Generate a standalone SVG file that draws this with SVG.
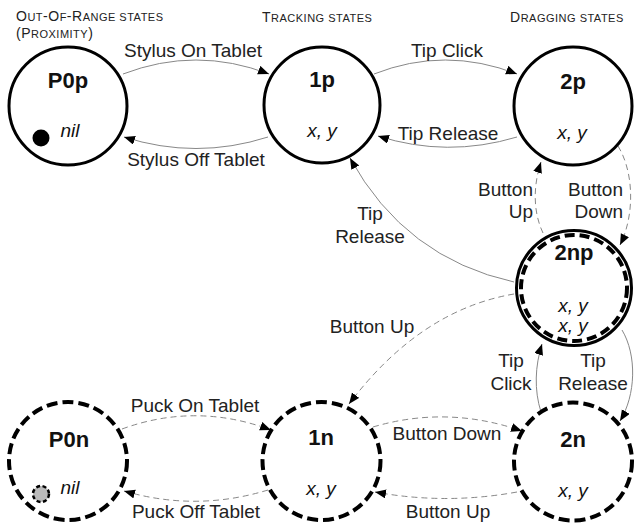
<svg xmlns="http://www.w3.org/2000/svg" width="635" height="526" viewBox="0 0 635 526">
  <style>
    text { font-family: "Liberation Sans", Arial, sans-serif; fill: #111; }
    .hdr { font-size: 14px; letter-spacing: 0.5px; fill: #222; }
    .hdr .sc { font-size: 11px; }
    .elabel { font-size: 19px; fill: #222; }
    .mid { text-anchor: middle; }
    .end { text-anchor: end; }
    .name { font-size: 22px; font-weight: bold; text-anchor: middle; }
    .val { font-size: 19px; font-style: italic; text-anchor: middle; }
    .state { fill: #fff; stroke: #000; stroke-width: 3; }
    .state.dashed { stroke-width: 4; stroke-dasharray: 11 5; }
    .edge { fill: none; stroke: #888; stroke-width: 1; marker-end: url(#arrow); }
    .edge.dashed { stroke-dasharray: 6 4; }
  </style>
  <defs>
    <marker id="arrow" markerUnits="userSpaceOnUse" markerWidth="12" markerHeight="10" refX="11" refY="4.5" orient="auto">
      <path d="M0,0 L11,4.5 L0,9 Z" fill="#000"/>
    </marker>
  </defs>

  <rect width="635" height="526" fill="#fff"/>

  <!-- column headings (small caps) -->
  <text class="hdr" x="16" y="21">O<tspan class="sc">UT</tspan>-O<tspan class="sc">F</tspan>-R<tspan class="sc">ANGE STATES</tspan></text>
  <text class="hdr" x="16" y="38">(P<tspan class="sc">ROXIMITY</tspan>)</text>
  <text class="hdr" x="262" y="22">T<tspan class="sc">RACKING STATES</tspan></text>
  <text class="hdr" x="510" y="22">D<tspan class="sc">RAGGING STATES</tspan></text>

  <!-- transitions -->
  <g id="connectors">
    <path class="edge" d="M123,74 Q196,46 269,74"/>
    <path class="edge" d="M268,137 Q196,160 124,137"/>
    <path class="edge" d="M374,74 Q445,46 517,74"/>
    <path class="edge" d="M517,137 Q447,158 378,136"/>
    <path class="edge" d="M514,282 Q405,258 350,158"/>
    <path class="edge dashed" d="M618,146 C634,172 635,215 620,245"/>
    <path class="edge dashed" d="M543,233 C533,212 533,186 541,162"/>
    <path class="edge dashed" d="M514,294 Q420,310 349,404"/>
    <path class="edge" d="M622,330 C637,355 636,395 620,421"/>
    <path class="edge" d="M541,412 C534,390 535,366 542,344"/>
    <path class="edge dashed" d="M122,429 Q196,402 271,430"/>
    <path class="edge dashed" d="M268,490 Q196,512 124,491"/>
    <path class="edge dashed" d="M373,427 Q447,405 522,431"/>
    <path class="edge dashed" d="M517,492 Q446,505 375,492"/>

    <text class="elabel mid" x="193" y="57">Stylus On Tablet</text>
    <text class="elabel mid" x="196" y="166">Stylus Off Tablet</text>
    <text class="elabel mid" x="447" y="57">Tip Click</text>
    <text class="elabel mid" x="448" y="140">Tip Release</text>
    <text class="elabel mid" x="370" y="220">Tip</text>
    <text class="elabel mid" x="370" y="243">Release</text>
    <text class="elabel end" x="533" y="196">Button</text>
    <text class="elabel end" x="533" y="218">Up</text>
    <text class="elabel end" x="623" y="196">Button</text>
    <text class="elabel end" x="623" y="218">Down</text>
    <text class="elabel mid" x="372" y="333">Button Up</text>
    <text class="elabel mid" x="511" y="367">Tip</text>
    <text class="elabel mid" x="511" y="390">Click</text>
    <text class="elabel mid" x="593" y="367">Tip</text>
    <text class="elabel mid" x="593" y="390">Release</text>
    <text class="elabel mid" x="195" y="412">Puck On Tablet</text>
    <text class="elabel mid" x="196" y="518">Puck Off Tablet</text>
    <text class="elabel mid" x="447" y="440">Button Down</text>
    <text class="elabel mid" x="448" y="518">Button Up</text>
  </g>

  <!-- stylus states -->
  <g id="P0p">
    <circle class="state" cx="68" cy="106" r="59"/>
    <text class="name" x="68" y="88">P0p</text>
    <circle cx="41" cy="138" r="8.5" fill="#000"/>
    <text class="val" x="70" y="137">nil</text>
  </g>
  <g id="s1p">
    <circle class="state" cx="322" cy="105" r="58"/>
    <text class="name" x="322" y="87">1p</text>
    <text class="val" x="322" y="137">x, y</text>
  </g>
  <g id="s2p">
    <circle class="state" cx="573" cy="106" r="59"/>
    <text class="name" x="573" y="89">2p</text>
    <text class="val" x="572" y="139">x, y</text>
  </g>
  <g id="s2np">
    <circle class="state" cx="574" cy="288" r="57.5"/>
    <circle cx="574" cy="288" r="53" fill="none" stroke="#000" stroke-width="4" stroke-dasharray="10 5"/>
    <text class="name" x="574" y="260">2np</text>
    <text class="val" x="573" y="312">x, y</text>
    <text class="val" x="573" y="332">x, y</text>
  </g>

  <!-- puck states -->
  <g id="P0n">
    <circle class="state dashed" cx="68" cy="461" r="59"/>
    <text class="name" x="69" y="447">P0n</text>
    <circle cx="41" cy="494" r="8" fill="#bbb" stroke="#000" stroke-width="2.5" stroke-dasharray="4 2.5"/>
    <text class="val" x="70" y="494">nil</text>
  </g>
  <g id="s1n">
    <circle class="state dashed" cx="321.5" cy="461" r="59"/>
    <text class="name" x="321" y="445">1n</text>
    <text class="val" x="321" y="495">x, y</text>
  </g>
  <g id="s2n">
    <circle class="state dashed" cx="573" cy="461.5" r="59"/>
    <text class="name" x="573" y="447">2n</text>
    <text class="val" x="573" y="497">x, y</text>
  </g>
</svg>
